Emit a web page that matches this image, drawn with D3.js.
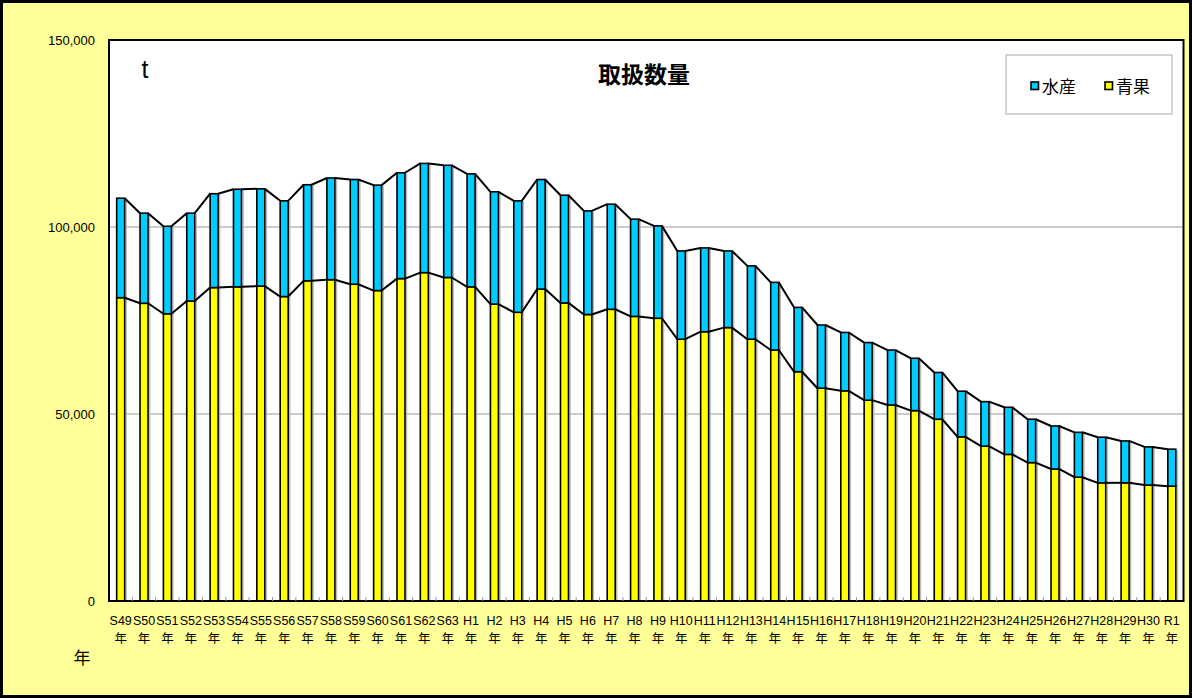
<!DOCTYPE html>
<html><head><meta charset="utf-8">
<script src="https://cdn.jsdelivr.net/npm/d3@7"></script>
<style>
html,body{margin:0;padding:0;background:#fff;}
svg{display:block;}
text{font-family:"Liberation Sans","Noto Sans CJK JP",sans-serif;}
</style></head><body>
<svg id="c" width="1192" height="698"></svg>
<script>
const categories = ["S49","S50","S51","S52","S53","S54","S55","S56","S57","S58","S59","S60","S61","S62","S63",
"H1","H2","H3","H4","H5","H6","H7","H8","H9","H10","H11","H12","H13","H14","H15","H16","H17","H18","H19","H20",
"H21","H22","H23","H24","H25","H26","H27","H28","H29","H30","R1"];
const totals = [107700,103700,100200,103700,108900,110100,110200,107000,111300,113100,112700,111200,114500,117000,116500,
114200,109400,107000,112700,108500,104300,106100,102100,100300,93600,94400,93600,89600,85200,78500,73800,71800,69100,67100,64900,
61100,56100,53300,51800,48600,46800,45100,43800,42800,41200,40600];
const seika = [81100,79600,76800,80200,83800,84000,84200,81400,85600,85900,84700,83000,86200,87800,86500,
84000,79400,77200,83400,79700,76600,78000,76100,75600,70000,72000,73100,70000,67100,61300,56900,56200,53700,52400,50900,
48600,43900,41400,39200,37000,35300,33100,31600,31600,31000,30700];
const suisan = totals.map((t,i)=>t-seika[i]);
const yTicks = [0,50000,100000,150000];
const seriesNames = ["水産","青果"];
const colors = {"水産":"#00CCFF","青果":"#FFFF00"};

const svg = d3.select("#c");
// outer frame
svg.append("rect").attr("x",1.5).attr("y",1.5).attr("width",1189).attr("height",695)
  .attr("fill","#FFFF99").attr("stroke","#000").attr("stroke-width",3);

const L=109, R=1183.5, T=40, B=601;
svg.append("rect").attr("x",L).attr("y",T).attr("width",R-L).attr("height",B-T).attr("fill","#fff");

const x = d3.scaleBand().domain(categories).range([L,R]).padding(0);
const y = d3.scaleLinear().domain([0,150000]).range([B,T]);

// gridlines
svg.append("g").selectAll("line").data(yTicks.filter(v=>v>0&&v<150000)).join("line")
  .attr("x1",L).attr("x2",R).attr("y1",d=>y(d)).attr("y2",d=>y(d))
  .attr("stroke","#999").attr("stroke-width",1);

// y tick labels
const yAxis = d3.axisLeft(y).tickValues(yTicks).tickFormat(d3.format(",")).tickSize(0).tickPadding(14);
const ga = svg.append("g").attr("transform",`translate(${L},0)`).call(yAxis);
ga.select(".domain").remove();
ga.selectAll("text").attr("font-size",13).attr("fill","#000")
  .attr("font-family","'Liberation Sans','Noto Sans CJK JP',sans-serif");

const bw = 8;
const cx = d => x(d)+x.bandwidth()/2;

// stacked bars
const stack = categories.map((c,i)=>({c, s0:0, s1:seika[i], w1:seika[i]+suisan[i]}));
const gBars = svg.append("g");
// faint shadow on right side
gBars.selectAll("rect.shadow").data(stack).join("rect").attr("class","shadow")
  .attr("x",d=>cx(d.c)+bw/2+0.8).attr("width",1.5)
  .attr("y",d=>y(d.w1)+1).attr("height",d=>y(0)-y(d.w1)-1)
  .attr("fill","#bbb");
gBars.selectAll("rect.seika").data(stack).join("rect").attr("class","seika")
  .attr("x",d=>cx(d.c)-bw/2).attr("width",bw)
  .attr("y",d=>y(d.s1)).attr("height",d=>y(0)-y(d.s1))
  .attr("fill",colors["青果"]).attr("stroke","#000").attr("stroke-width",1.6);
gBars.selectAll("rect.suisan").data(stack).join("rect").attr("class","suisan")
  .attr("x",d=>cx(d.c)-bw/2).attr("width",bw)
  .attr("y",d=>y(d.w1)).attr("height",d=>y(d.s1)-y(d.w1))
  .attr("fill",colors["水産"]).attr("stroke","#000").attr("stroke-width",1.6);

// series lines
function seriesLines(vals){
  const segs=[];
  for(let i=0;i<categories.length-1;i++){
    segs.push([cx(categories[i])+bw/2, y(vals[i]), cx(categories[i+1])-bw/2, y(vals[i+1])]);
  }
  return segs;
}
[seika, totals].forEach(vals=>{
  svg.append("g").selectAll("line").data(seriesLines(vals)).join("line")
    .attr("x1",d=>d[0]).attr("y1",d=>d[1]).attr("x2",d=>d[2]).attr("y2",d=>d[3])
    .attr("stroke","#000").attr("stroke-width",2);
});

// plot border
svg.append("rect").attr("x",L).attr("y",T).attr("width",R-L).attr("height",B-T)
  .attr("fill","none").attr("stroke","#000").attr("stroke-width",2);

// x tick marks (small, inside)
svg.append("g").selectAll("line").data(categories.slice(1)).join("line")
  .attr("x1",d=>x(d)).attr("x2",d=>x(d)).attr("y1",B).attr("y2",B-4)
  .attr("stroke","#999").attr("stroke-width",1);

// x labels
const gx = svg.append("g");
categories.forEach(c=>{
  const t = gx.append("text").attr("x",cx(c)).attr("text-anchor","middle").attr("font-size",12.5).attr("fill","#000");
  t.append("tspan").attr("x",cx(c)).attr("y",625).text(c);
  t.append("tspan").attr("x",cx(c)).attr("y",643).text("年");
});

// axis title 年
svg.append("text").attr("x",82).attr("y",664).attr("text-anchor","middle").attr("font-size",17).text("年");
// unit t
svg.append("text").attr("x",145).attr("y",78).attr("text-anchor","middle").attr("font-size",25).text("t");
// title
svg.append("text").attr("x",644).attr("y",83).attr("text-anchor","middle").attr("font-size",23).attr("font-weight","bold").text("取扱数量");

// legend
const lg = svg.append("g");
lg.append("rect").attr("x",1006).attr("y",55).attr("width",166).attr("height",59).attr("fill","#fff").attr("stroke","#aaa").attr("stroke-width",1);
const lx = [1031,1105];
seriesNames.forEach((n,i)=>{
  lg.append("rect").attr("x",lx[i]).attr("y",82).attr("width",7.5).attr("height",7.5).attr("fill",colors[n]).attr("stroke","#000").attr("stroke-width",1.6);
  lg.append("text").attr("x",lx[i]+11).attr("y",93).attr("font-size",17).attr("font-family","'Noto Sans CJK JP',sans-serif").text(n);
});
</script>
</body></html>
